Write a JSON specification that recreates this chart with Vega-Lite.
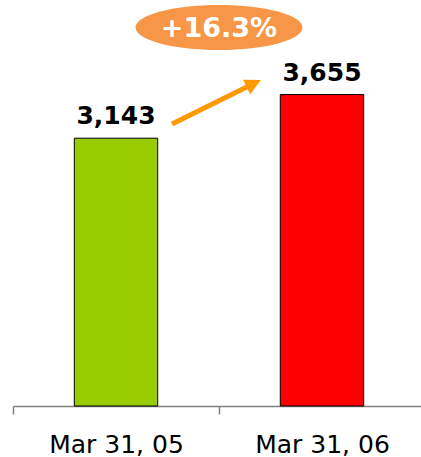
{
  "$schema": "https://vega.github.io/schema/vega-lite/v6.json",
  "width": 412,
  "height": 406,
  "autosize": {"type": "none"},
  "padding": {"left": 13, "top": 0, "right": 0, "bottom": 51},
  "config": {"view": {"stroke": null}},
  "resolve": {"scale": {"x": "independent"}},
  "layer": [
    {
      "data": {"values": [
        {"date": "Mar 31, 05", "value": 3143},
        {"date": "Mar 31, 06", "value": 3655}
      ]},
      "encoding": {
        "x": {"field": "date", "type": "nominal", "sort": null,
          "scale": {"paddingInner": 0, "paddingOuter": 0},
          "axis": {"title": null, "labelAngle": 0, "grid": false,
            "domainColor": "#808080", "domainWidth": 1.5, "tickColor": "#808080", "tickWidth": 1.5,
            "tickSize": 8, "tickBand": "extent",
            "labelFont": "DejaVu Sans", "labelFontSize": 25, "labelColor": "#000000",
            "labelBaseline": "alphabetic", "labelPadding": 38}},
        "y": {"field": "value", "type": "quantitative",
          "scale": {"domain": [0, 4765], "nice": false, "zero": true}, "axis": null}
      },
      "layer": [
        {
          "mark": {"type": "bar", "width": {"band": 0.405}, "stroke": "#000000", "strokeWidth": 1},
          "encoding": {
            "color": {"field": "date", "type": "nominal", "legend": null,
              "scale": {"domain": ["Mar 31, 05", "Mar 31, 06"], "range": ["#99CC00", "#FF0000"]}}
          }
        },
        {
          "mark": {"type": "text", "dy": -14, "baseline": "alphabetic", "align": "center",
            "font": "DejaVu Sans", "fontWeight": "bold", "fontSize": 25, "color": "#000000"},
          "encoding": {"text": {"field": "value", "type": "quantitative", "format": ",.0f"}}
        }
      ]
    },
    {
      "data": {"values": [{"x1": 0.772, "y1": 3310, "x2": 1.169, "y2": 3785}]},
      "mark": {"type": "rule", "color": "#FF9900", "strokeWidth": 5},
      "encoding": {
        "x": {"field": "x1", "type": "quantitative", "scale": {"domain": [0, 2], "nice": false, "zero": false}, "axis": null},
        "y": {"field": "y1", "type": "quantitative"},
        "x2": {"field": "x2"},
        "y2": {"field": "y2"}
      }
    },
    {
      "data": {"values": [{"x": 1.169, "y": 3785}]},
      "mark": {"type": "point", "filled": true, "opacity": 1, "color": "#FF9900",
        "shape": "M -1 -1 L 1 0 L -1 1 Z", "size": 256, "angle": -26.3},
      "encoding": {
        "x": {"field": "x", "type": "quantitative", "scale": {"domain": [0, 2], "nice": false, "zero": false}, "axis": null},
        "y": {"field": "y", "type": "quantitative"}
      }
    },
    {
      "data": {"values": [{"x": 1.0, "y": 4442, "label": "+16.3%"}]},
      "encoding": {
        "x": {"field": "x", "type": "quantitative", "scale": {"domain": [0, 2], "nice": false, "zero": false}, "axis": null},
        "y": {"field": "y", "type": "quantitative"}
      },
      "layer": [
        {
          "mark": {"type": "point", "filled": true, "opacity": 1, "color": "#F79646",
            "shape": "M -1 0 A 1 0.27 0 1 0 1 0 A 1 0.27 0 1 0 -1 0 Z", "size": 27889}
        },
        {
          "mark": {"type": "text", "baseline": "middle", "align": "center", "dy": 1,
            "font": "DejaVu Sans", "fontWeight": "bold", "fontSize": 27, "color": "#FFFFFF"},
          "encoding": {"text": {"field": "label", "type": "nominal"}}
        }
      ]
    }
  ]
}
